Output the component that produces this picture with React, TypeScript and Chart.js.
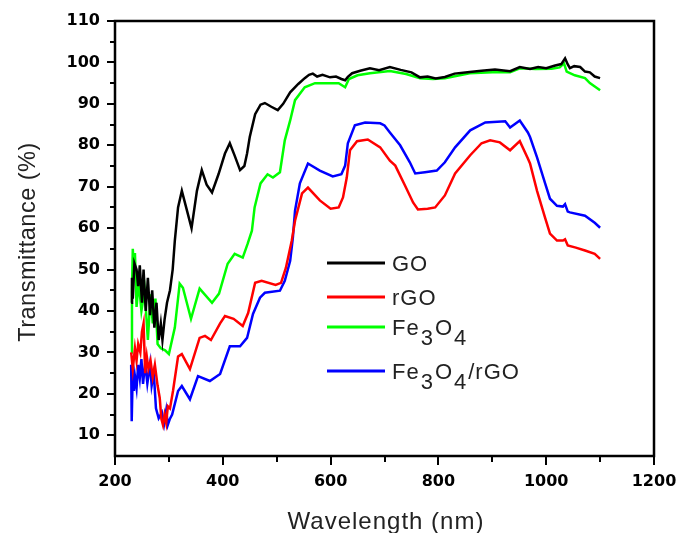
import React, { useEffect, useRef } from 'react';
import { Chart, registerables } from 'chart.js';

Chart.register(...registerables);

// ---------------- data ----------------
const goX = [230, 231.5, 233, 236, 240, 243, 246, 250, 253, 257, 261, 265, 269, 273, 277, 281, 285, 288, 292, 296.5, 302, 307, 311, 317, 324, 332, 342, 352, 361, 370, 380, 392, 404, 413, 422, 432, 440, 445, 450, 460, 470, 478, 490, 502, 512, 525, 540, 552, 560, 567, 575, 585, 599, 610, 620, 627, 632, 640, 655, 673, 690, 710, 730, 750, 766, 780, 795, 812, 830, 858, 880, 905, 933, 951, 970, 985, 1000, 1015, 1028, 1035, 1040, 1044, 1052, 1063, 1072, 1081, 1090, 1100];
const goY = [42, 48, 43, 51.5, 50, 46, 51, 42, 50, 40, 48, 39, 45, 36, 42, 33, 37, 33, 38, 42, 45, 50, 57, 65, 69, 65, 60, 69, 74, 70.5, 68.6, 73, 78, 80.5, 77.5, 74, 75, 78, 82, 87.5, 89.8, 90.2, 89.3, 88.5, 90, 92.8, 94.8, 96.2, 97, 97.3, 96.6, 97, 96.4, 96.6, 96, 95.7, 96.5, 97.4, 98, 98.6, 98.1, 98.9, 98.2, 97.6, 96.4, 96.6, 96.1, 96.5, 97.3, 97.7, 98, 98.3, 97.9, 98.9, 98.4, 98.9, 98.6, 99.2, 99.6, 101, 99.5, 98.6, 99.1, 98.9, 97.8, 97.6, 96.6, 96.2];

const rgoX = [230, 233, 237, 240, 243, 247, 250, 253, 256, 259, 262, 266, 270, 274, 279, 283, 286, 289, 292, 295, 298, 302, 307.6, 317, 324, 339, 357, 367, 378, 395, 404, 420, 437, 447, 460, 472, 498, 508, 517, 528, 534, 547, 558, 580, 600, 615, 623, 630, 636, 649, 669, 692, 710, 720, 738, 753, 762, 780, 794, 812, 831, 859, 880, 896, 914, 933, 951, 966, 970, 983, 998, 1007, 1020, 1031, 1035, 1040, 1055, 1072, 1090, 1100];
const rgoY = [30, 26, 31, 28, 32, 30, 35, 37, 25, 29, 26, 28, 24, 27, 22, 19, 14, 12.5, 15, 13, 17, 16.5, 20.7, 29, 29.6, 26, 33.5, 34, 33, 37, 38.8, 38.1, 36.4, 39.5, 46.8, 47.3, 46.3, 46.8, 50.4, 57, 61.8, 68.4, 69.8, 66.7, 64.7, 65, 67.4, 72.2, 78.8, 81, 81.4, 79.5, 76.3, 75.1, 70.3, 66.2, 64.5, 64.7, 65, 67.9, 73.2, 77.6, 80.5, 81.2, 80.7, 78.8, 81, 76.8, 75.6, 69, 62.5, 58.7, 57, 57, 57.3, 55.8, 55.3, 54.6, 53.8, 52.6];

const fe3o4X = [230, 231.5, 233, 235, 237, 240, 244, 249, 255, 261, 266, 270, 275, 279, 285, 293, 300, 311, 320, 326, 341, 357, 380, 393, 409, 422, 437, 446, 454, 459, 470, 483, 493, 506, 515, 525, 534, 552, 571, 600, 615, 627, 634, 650, 673, 710, 740, 766, 790, 812, 858, 900, 933, 951, 980, 1010, 1025, 1033, 1038, 1053, 1072, 1081, 1100];
const fe3o4Y = [30, 45, 55, 50, 54, 41, 47, 40, 45, 33, 44, 37, 43, 32, 31, 30.5, 29.6, 36, 46.6, 45.6, 38.1, 45.4, 42, 44.2, 51.4, 53.8, 52.9, 56.2, 59.4, 65, 70.8, 73, 72.2, 73.5, 81.2, 86, 90.9, 94, 95, 95, 95, 94, 96, 96.9, 97.4, 97.9, 97.2, 96.2, 96, 96.2, 97.4, 97.6, 97.6, 98.6, 98.4, 98.5, 98.8, 99.8, 97.8, 96.9, 96.2, 95, 93.3];

const compX = [230, 231, 233, 235, 237, 240, 243, 246, 249, 252, 256, 260, 265, 268, 272, 276, 281, 287, 291, 295, 298, 302, 306, 317, 324, 339, 354, 376, 395, 413, 432, 445, 456, 469, 478, 506, 515, 525, 530, 534, 543, 558, 580, 604, 620, 627, 632, 645, 664, 692, 700, 710, 729, 747, 757, 775, 797, 812, 831, 859, 887, 924, 933, 951, 966, 970, 983, 998, 1007, 1020, 1031, 1035, 1040, 1044, 1072, 1090, 1100];
const compY = [27, 13.4, 26, 20.7, 24.3, 21.4, 27, 23.8, 28.4, 22.4, 27.4, 22.5, 27.2, 22, 25, 16.5, 14.1, 15.5, 12.7, 16, 12.5, 14, 15, 20.7, 21.9, 18.7, 24.3, 23.1, 24.8, 31.5, 31.5, 33.5, 39.3, 43.2, 44.4, 44.9, 47.3, 52.1, 57.7, 64.2, 70.8, 75.6, 73.9, 72.5, 73, 75.1, 80.5, 84.8, 85.5, 85.3, 84.8, 83.1, 80, 75.9, 73.2, 73.5, 73.9, 75.9, 79.5, 83.6, 85.5, 85.8, 84.3, 86, 83.1, 82, 77.1, 70.8, 67.1, 65.4, 65.2, 65.8, 64, 63.8, 63, 61.3, 60.1];

const xMajorTicks = [200, 400, 600, 800, 1000, 1200];
const xMinorTicks = [300, 500, 700, 900, 1100];
const yMajorTicks = [10, 20, 30, 40, 50, 60, 70, 80, 90, 100, 110];
const yMinorTicks = [15, 25, 35, 45, 55, 65, 75, 85, 95, 105];

const seriesNames = ['GO', 'rGO', 'Fe3O4', 'Fe3O4/rGO'];
const seriesColors = ['#000000', '#ff0000', '#00ff00', '#0000ff'];
// legend label pieces: [text, isSubscript]
const legendParts: [string, boolean][][] = [
  [['GO', false]],
  [['rGO', false]],
  [['Fe', false], ['3', true], ['O', false], ['4', true]],
  [['Fe', false], ['3', true], ['O', false], ['4', true], ['/rGO', false]],
];

const xTitle = 'Wavelength (nm)';
const yTitle = 'Transmittance (%)';

function toPoints(xs: number[], ys: number[]) {
  return xs.map((x, i) => ({ x, y: ys[i] }));
}

function drawText(ctx: CanvasRenderingContext2D, text: string, x: number, y: number, font: string, sx: number, spacing: number) {
  ctx.save();
  ctx.font = font;
  (ctx as any).letterSpacing = spacing + 'px';
  ctx.translate(x, y);
  ctx.scale(sx, 1);
  ctx.fillText(text, 0, 0);
  const w = ctx.measureText(text).width * sx;
  ctx.restore();
  return w;
}

function measure(ctx: CanvasRenderingContext2D, text: string, font: string, sx: number, spacing: number) {
  ctx.save();
  ctx.font = font;
  (ctx as any).letterSpacing = spacing + 'px';
  const w = ctx.measureText(text).width * sx;
  ctx.restore();
  return w;
}

const framePlugin = {
  id: 'framePlugin',
  afterDraw(chart: any) {
    const { ctx, chartArea } = chart;
    const { left, right, top, bottom } = chartArea;
    const xs = chart.scales.x;
    const ys = chart.scales.y;
    ctx.save();
    ctx.strokeStyle = '#000';
    ctx.lineWidth = 2.5;
    ctx.strokeRect(left, top, right - left, bottom - top);
    ctx.lineWidth = 2;
    ctx.beginPath();
    xMajorTicks.forEach((v) => {
      const p = Math.round(xs.getPixelForValue(v));
      ctx.moveTo(p, bottom);
      ctx.lineTo(p, bottom + 9);
    });
    xMinorTicks.forEach((v) => {
      const p = Math.round(xs.getPixelForValue(v));
      ctx.moveTo(p, bottom);
      ctx.lineTo(p, bottom + 6);
    });
    yMajorTicks.forEach((v) => {
      const p = Math.round(ys.getPixelForValue(v));
      ctx.moveTo(left, p);
      ctx.lineTo(left - 8, p);
    });
    yMinorTicks.forEach((v) => {
      const p = Math.round(ys.getPixelForValue(v));
      ctx.moveTo(left, p);
      ctx.lineTo(left - 5, p);
    });
    ctx.stroke();

    // axis titles
    ctx.fillStyle = '#222';
    ctx.textBaseline = 'alphabetic';
    ctx.textAlign = 'left';
    const titleFont = '24px "Liberation Sans", Arial, sans-serif';
    const xw = measure(ctx, xTitle, titleFont, 1.0, 1.0);
    drawText(ctx, xTitle, 386 - xw / 2, 529, titleFont, 1.0, 1.0);

    ctx.save();
    ctx.translate(35, 242);
    ctx.rotate(-Math.PI / 2);
    const yw = measure(ctx, yTitle, titleFont, 0.98, 0.5);
    drawText(ctx, yTitle, -yw / 2, 0, titleFont, 0.98, 0.5);
    ctx.restore();

    // legend
    const rows = [263, 297, 327, 371];
    const legFont = '22px "Liberation Sans", Arial, sans-serif';
    legendParts.forEach((parts, i) => {
      const yLine = rows[i];
      ctx.strokeStyle = seriesColors[i];
      ctx.lineWidth = 3;
      ctx.beginPath();
      ctx.moveTo(327, yLine);
      ctx.lineTo(385, yLine);
      ctx.stroke();
      let x = 392;
      ctx.fillStyle = '#222';
      parts.forEach(([t, sub]) => {
        const w = drawText(ctx, t, x, yLine + 8 + (sub ? 10 : 0), legFont, 1.0, 1.0);
        x += w + 1;
      });
    });
    ctx.restore();
  },
};

export default function App() {
  const ref = useRef<HTMLCanvasElement | null>(null);
  useEffect(() => {
    if (!ref.current) return;
    const xsData = [goX, rgoX, fe3o4X, compX];
    const ysData = [goY, rgoY, fe3o4Y, compY];
    const chart = new Chart(ref.current, {
      type: 'line',
      data: {
        datasets: seriesNames.map((name, i) => ({
          label: name,
          data: toPoints(xsData[i], ysData[i]),
          borderColor: seriesColors[i],
          backgroundColor: seriesColors[i],
          borderWidth: 2.5,
          pointRadius: 0,
          tension: 0,
          fill: false,
        })),
      },
      options: {
        animation: false,
        responsive: false,
        devicePixelRatio: 1,
        layout: { padding: { top: 21, right: 26, left: 0, bottom: 0 } },
        plugins: { legend: { display: false }, tooltip: { enabled: false } },
        scales: {
          x: {
            type: 'linear',
            min: 200,
            max: 1200,
            grid: { display: false, drawTicks: false },
            border: { display: false },
            ticks: {
              stepSize: 200,
              padding: 16,
              color: '#000',
              font: { family: '"DejaVu Sans", sans-serif', size: 16, weight: 'bold' },
              maxRotation: 0,
              callback: (v: any) => String(v),
            },
            afterBuildTicks: (s: any) => { s.ticks = xMajorTicks.map((v) => ({ value: v })); },
            afterFit: (s: any) => { s.height = 77; s.paddingLeft = 0; s.paddingRight = 0; },
          },
          y: {
            type: 'linear',
            min: 5,
            max: 110,
            grid: { display: false, drawTicks: false },
            border: { display: false },
            ticks: {
              padding: 15,
              color: '#000',
              font: { family: '"DejaVu Sans", sans-serif', size: 16, weight: 'bold' },
              callback: (v: any) => String(v),
            },
            afterBuildTicks: (s: any) => { s.ticks = yMajorTicks.map((v) => ({ value: v })); },
            afterFit: (s: any) => { s.width = 115; s.paddingTop = 0; s.paddingBottom = 0; },
          },
        },
      },
      plugins: [framePlugin],
    } as any);
    return () => chart.destroy();
  }, []);
  return (
    <div style={{ position: 'fixed', left: 0, top: 0, width: 680, height: 533, background: '#fff' }}>
      <canvas ref={ref} width={680} height={533} style={{ display: 'block' }} />
    </div>
  );
}
